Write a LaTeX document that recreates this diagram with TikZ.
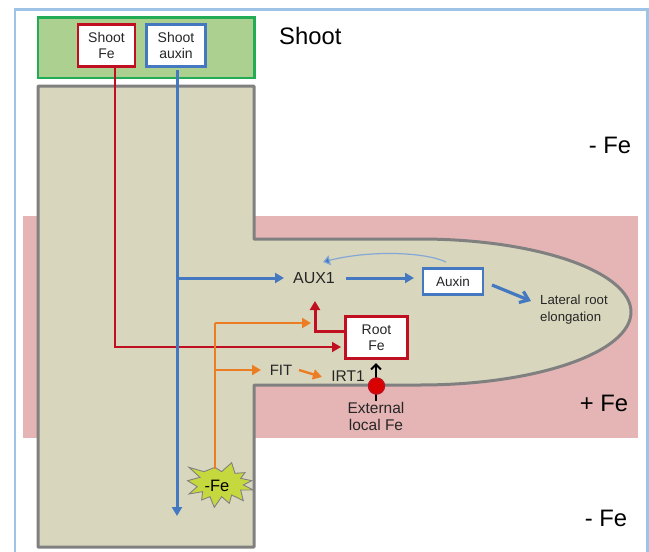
\documentclass[tikz,border=0pt]{standalone}
\usepackage{fontspec}
\setmainfont{Liberation Sans}
\usetikzlibrary{arrows.meta}
\definecolor{frameblue}{HTML}{9DC3E6}
\definecolor{pinkbg}{HTML}{E5B5B5}
\definecolor{tissue}{HTML}{D8D7BD}
\definecolor{edgegray}{HTML}{808080}
\definecolor{leaf}{HTML}{ABD08F}
\definecolor{leafedge}{HTML}{22AC55}
\definecolor{redc}{HTML}{C00F20}
\definecolor{bluec}{HTML}{4478C0}
\definecolor{orangec}{HTML}{ED7D23}
\definecolor{burst}{HTML}{C5D93F}
\definecolor{txt}{HTML}{262626}
\tikzset{
  lab/.style={text=txt,inner sep=0pt,align=center},
  biglab/.style={text=black,inner sep=0pt,font=\fontsize{23.8}{26}\selectfont},
  smalllab/.style={text=txt,inner sep=0pt,font=\fontsize{13.2}{16.5}\selectfont},
  redbox/.style={draw=redc,line width=2.8pt,fill=white,inner sep=0pt,align=center,text=txt,font=\fontsize{14}{16}\selectfont},
  bluebox/.style={draw=bluec,line width=2.4pt,fill=white,inner sep=0pt,align=center,text=txt,font=\fontsize{14}{16}\selectfont},
  headtri/.style={-{Triangle[length=9pt,width=10pt]}},
  redline/.style={redc,line width=1.8pt,headtri},
  redthick/.style={redc,line width=3pt,headtri},
  blueline/.style={bluec,line width=3pt,headtri},
  orangeline/.style={orangec,line width=2.4pt,headtri},
}
\begin{document}
\begin{tikzpicture}[x=1pt,y=-1pt]
\useasboundingbox (0,0) rectangle (649,552);
\fill[white] (0,0) rectangle (649,552);
% frame
\draw[frameblue,line width=2.6pt] (15,553) -- (15,9.5) -- (647.5,9.5) -- (647.5,553);
% pink
\fill[pinkbg] (23,216) rectangle (638,438);
% tissue
\draw[edgegray,line width=3pt,fill=tissue,line join=round]
  (38,86) -- (254,86) -- (254,239) -- (420,239)
  arc[start angle=90,end angle=-90,x radius=211pt,y radius=73pt]
  -- (254,385) -- (254,547) -- (38,547) -- cycle;
% shoot
\draw[leafedge,line width=2.8pt,fill=leaf] (38,17.5) rectangle (254.5,78);
\node[redbox,minimum width=57pt,minimum height=42pt] (sfe) at (106.5,45.5) {Shoot\\Fe};
\node[bluebox,minimum width=59pt,minimum height=42pt] (saux) at (176,45.5) {Shoot\\auxin};
\node[biglab,anchor=west] (shootl) at (279,36) {Shoot};
\node[biglab] (fe1) at (610,145) {- Fe};
\node[biglab] (fe2) at (604,403) {+ Fe};
\node[biglab] (fe3) at (606,518) {- Fe};
% nodes in root
\node[lab,font=\fontsize{16}{18}\selectfont] (aux1) at (314,278) {AUX1};
\node[bluebox,minimum width=60pt,minimum height=26pt,font=\fontsize{13.5}{14}\selectfont] (auxin) at (453,281.5) {Auxin};
\node[redbox,minimum width=62pt,minimum height=42pt] (rfe) at (376.5,337.5) {Root\\Fe};
\node[lab,font=\fontsize{15}{16}\selectfont] (fit) at (281,370) {FIT};
\node[lab,font=\fontsize{15.5}{16}\selectfont] (irt) at (348,376) {IRT1};
\node[smalllab,text width=80pt,anchor=north west,align=left] (lat) at (540,295) {Lateral root\\elongation};
\node[lab,font=\fontsize{15.5}{17}\selectfont] (ext) at (376,416.5) {External\\local Fe};
% burst
\begin{scope}[shift={(0,430)},x=0.3333pt,y=-0.3333pt]
\draw[edgegray,line width=0.9pt,fill=burst,line join=miter]
 (567,112)--(612,125)--(645,112)--(665,125)--(695,98)--(705,130)--(735,128)--(722,145)--(755,152)--(730,165)--(760,180)--(722,180)--(730,212)--(695,195)--(688,220)--(665,200)--(643,232)--(630,200)--(605,210)--(608,185)--(567,192)--(592,170)--(563,152)--(600,142)--cycle;
\end{scope}
\node[inner sep=0pt,text=black,font=\fontsize{16.5}{18}\selectfont] (minusfe) at (217,486) {-Fe};
% coordinates
\coordinate (orangeTop) at (215,323);
\coordinate (orangeBot) at (215,469);
\coordinate (orangeFit) at (215,370);
\coordinate (auxTarget) at (311,323);
\coordinate (fitEnd) at (261,370);
\coordinate (fitS) at (299,370);
\coordinate (fitE) at (322,377);
\coordinate (blueS) at (177,70);
\coordinate (blueE) at (177,516);
\coordinate (blueB) at (177,278);
\coordinate (auxA) at (284,278);
\coordinate (auxB) at (346,278);
\coordinate (auxC) at (414,278);
\coordinate (redS) at (115,68);
\coordinate (redC) at (115,347);
\coordinate (redE) at (341,347);
\coordinate (rr1) at (345,331);
\coordinate (rr2) at (315,331);
\coordinate (rr3) at (315,301);
\coordinate (lat1) at (492,285);
\coordinate (lat2) at (531,301);
\coordinate (arcS) at (446,262);
\coordinate (arcE) at (323,262);
\coordinate (pin1) at (376,401);
\coordinate (pin2) at (376,363);
% connectors
\draw[redline] (redS) -- (redC) -- (redE);
\draw[blueline] (blueS) -- (blueE);
\draw[blueline] (blueB) -- (auxA);
\draw[blueline] (auxB) -- (auxC);
\draw[orangec,line width=2.4pt] (orangeBot) -- (orangeTop);
\draw[orangeline] (orangeTop) -- (auxTarget);
\draw[orangeline] (orangeFit) -- (fitEnd);
\draw[orangeline] (fitS) -- (fitE);
\draw[redthick] (rr1) -- (rr2) -- (rr3);
\draw[bluec!65!white,line width=1.2pt,-{Triangle[length=7pt,width=10pt,fill=bluec]}] (arcS) .. controls (425,252) and (370,250) .. (arcE);
\draw[bluec,line width=3.2pt,-{Straight Barb[length=8pt,width=12pt]}] (lat1) -- (lat2);
\draw[black,line width=2pt,-{Straight Barb[length=5pt,width=10pt]}] (pin1) -- (pin2);
\node[circle,draw=redc,fill=red!85!black,line width=1.4pt,minimum size=16pt,inner sep=0pt] (fedot) at (376.5,386) {};
\end{tikzpicture}
\end{document}
